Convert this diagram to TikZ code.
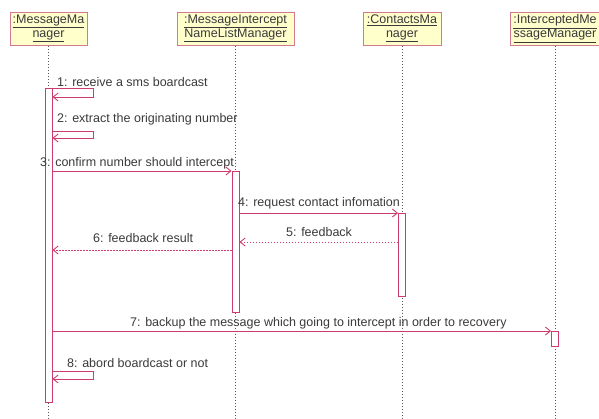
\documentclass[tikz,border=0pt]{standalone}
\usepackage{fontspec}
\setmainfont{Liberation Sans}
\usepackage{xcolor}
\usetikzlibrary{arrows.meta}

\definecolor{objfill}{HTML}{FFFFCC}
\definecolor{objline}{HTML}{D47A90}
\definecolor{msgline}{HTML}{CC3D6B}
\definecolor{txtgray}{HTML}{3A3A3A}

\tikzset{
  obj/.style={draw=objline, fill=objfill, line width=1pt, minimum height=33pt,
    inner sep=1pt, align=center, text=txtgray, font=\fontsize{12.5}{14}\selectfont},
  lifeline/.style={gray!70!black, line width=0.8pt, dash pattern=on 1pt off 2pt},
  actbar/.style={draw=msgline, fill=white, line width=0.9pt, minimum width=7pt,
    inner sep=0pt, anchor=north},
  msg/.style={msgline, line width=0.9pt, -{Straight Barb[length=5pt,width=8pt]}},
  ret/.style={msg, dash pattern=on 1.5pt off 1.5pt},
  lbl/.style={text=txtgray, font=\fontsize{12.5}{14}\selectfont, inner sep=0pt, anchor=base west}
}

\begin{document}
\begin{tikzpicture}[x=1pt,y=-1pt]
          \useasboundingbox (0,0) rectangle (599,418);

          % objects
          \node[obj, minimum width=77pt] (mm) at (48.5,28.5) {\underline{:MessageMa}\\\underline{nager}};
          \node[obj, minimum width=117pt] (mi) at (235.5,28.5) {\underline{:MessageIntercept}\\\underline{NameListManager}};
          \node[obj, minimum width=78pt] (cm) at (402,28.5) {\underline{:ContactsMa}\\\underline{nager}};
          \node[obj, minimum width=90pt] (imm) at (555,28.5) {\underline{:InterceptedMe}\\\underline{ssageManager}};

          % lifelines
          \foreach \o in {mm,mi,cm,imm}
            \draw[lifeline] (\o.south) -- (\o.south |- 0,418);

          % activations
          \node[actbar, minimum height=314pt] (mmbar) at (mm.south |- 0,88) {};
          \node[actbar, minimum height=141pt] (mibar) at (mi.south |- 0,171) {};
          \node[actbar, minimum height=83pt] (cmbar) at (cm.south |- 0,213) {};
          \node[actbar, minimum height=15pt] (immbar) at (imm.south |- 0,331) {};

          % self calls
          \draw[msg] (mmbar.north east) -- ++(41,0) -- ++(0,9) -- (mmbar.east |- 0,97);
          \draw[msg] (mmbar.east |- 0,131) -- ++(41,0) -- ++(0,7) -- (mmbar.east |- 0,138);
          \draw[msg] (mmbar.east |- 0,371) -- ++(41,0) -- ++(0,8) -- (mmbar.east |- 0,379);

          % calls and returns
          \draw[msg] (mmbar.east |- mibar.north) -- (mibar.north west);
          \draw[msg] (mibar.east |- cmbar.north) -- (cmbar.north west);
          \draw[ret] (cmbar.west |- 0,242) -- (mibar.east |- 0,242);
          \draw[ret] (mibar.west |- 0,250) -- (mmbar.east |- 0,250);
          \draw[msg] (mmbar.east |- immbar.north) -- (immbar.north west);

          % labels
          \node[lbl] (l1) at (57,86) {1: receive a sms boardcast};
          \node[lbl] (l2) at (57,122) {2: extract the originating number};
          \node[lbl] (l3) at (40,166) {3: confirm number should intercept};
          \node[lbl] (l4) at (238,206) {4: request contact infomation};
          \node[lbl] (l5) at (286,236) {5: feedback};
          \node[lbl] (l6) at (93,242) {6: feedback result};
          \node[lbl] (l7) at (130,326) {7: backup the message which going to intercept in order to recovery};
          \node[lbl] (l8) at (67,367) {8: abord boardcast or not};
\end{tikzpicture}
\end{document}
